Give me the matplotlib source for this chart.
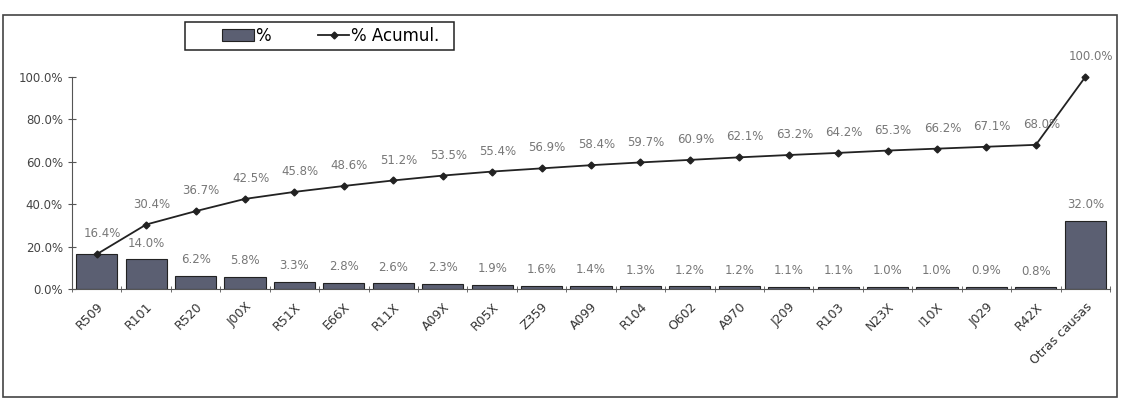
import matplotlib
matplotlib.use("Agg")
import matplotlib.pyplot as plt
from matplotlib.patches import Rectangle
import numpy as np

categories = ["R509", "R101", "R520", "J00X", "R51X", "E66X", "R11X", "A09X", "R05X",
              "Z359", "A099", "R104", "O602", "A970", "J209", "R103", "N23X", "I10X",
              "J029", "R42X", "Otras causas"]
pct = [16.4, 14.0, 6.2, 5.8, 3.3, 2.8, 2.6, 2.3, 1.9, 1.6, 1.4, 1.3, 1.2, 1.2, 1.1,
       1.1, 1.0, 1.0, 0.9, 0.8, 32.0]
cum = [16.4, 30.4, 36.7, 42.5, 45.8, 48.6, 51.2, 53.5, 55.4, 56.9, 58.4, 59.7, 60.9,
       62.1, 63.2, 64.2, 65.3, 66.2, 67.1, 68.0, 100.0]
yticks = [0, 20, 40, 60, 80, 100]

W, H = 1121, 405
fig = plt.figure(figsize=(W/100, H/100), dpi=100)
ax = fig.add_axes([72/W, 1-289/H, (1110-72)/W, (289-77)/H])

x = np.arange(len(categories))
bars = ax.bar(x, pct, width=0.83, color="#5b5f72", edgecolor="#222222", linewidth=0.8,
              label="%", zorder=2)
line, = ax.plot(x, cum, color="#222222", linewidth=1.3, marker="D", markersize=3.5,
                label="% Acumul.", zorder=3, clip_on=False)

# bar labels (the first one coincides with the cumulative label, drawn once)
for xi, v, c in zip(x, pct, cum):
    if abs(v - c) < 1e-9:
        continue
    ax.annotate(f"{v:.1f}%", (xi, v), xytext=(0, 7), textcoords="offset points",
                ha="center", va="bottom", fontsize=8.5, color="#777777")
for xi, v in zip(x, cum):
    ax.annotate(f"{v:.1f}%", (xi, v), xytext=(4, 10), textcoords="offset points",
                ha="center", va="bottom", fontsize=8.5, color="#777777")

ax.set_xlim(-0.5, len(categories) - 0.5)
ax.set_ylim(0, 100)
ax.set_yticks(yticks)
ax.set_yticklabels([f"{t:.1f}%" for t in yticks], fontsize=8.5, color="#444444")
ax.set_xticks(x)
ax.set_xticklabels(categories, rotation=45, ha="right", rotation_mode="anchor",
                   fontsize=9, color="#333333")
ax.tick_params(axis="x", length=0, pad=8)
ax.set_xticks(np.arange(-0.5, len(categories), 1.0), minor=True)
ax.tick_params(axis="x", which="minor", length=4, direction="inout", color="#555555")
ax.tick_params(axis="y", length=6, direction="inout", color="#555555")

for s in ["top", "right"]:
    ax.spines[s].set_visible(False)
ax.spines["left"].set_color("#555555")
ax.spines["bottom"].set_color("#555555")

# legend (frameless) inside a drawn box matching the reference
lx0, ly0, lx1, ly1 = 185, 22, 454, 50
leg = fig.legend(handles=[bars, line], labels=["%", "% Acumul."], ncol=2,
                 loc="center", bbox_to_anchor=((lx0 + lx1) / 2 / W + 0.01, 1 - (ly0 + ly1) / 2 / H),
                 frameon=False, fontsize=12, handlelength=1.9,
                 columnspacing=2.8, handletextpad=0.1, borderaxespad=0, borderpad=0)
fig.patches.append(Rectangle((lx0/W, 1-ly1/H), (lx1-lx0)/W, (ly1-ly0)/H,
                             transform=fig.transFigure, fill=False,
                             edgecolor="#222222", linewidth=1.1))

# outer frame
fig.patches.append(Rectangle((3/W, 8/H), 1114/W, (397-15)/H,
                             transform=fig.transFigure, fill=False,
                             edgecolor="#444444", linewidth=1.2))

fig.savefig("out.png", dpi=100, facecolor="white")
